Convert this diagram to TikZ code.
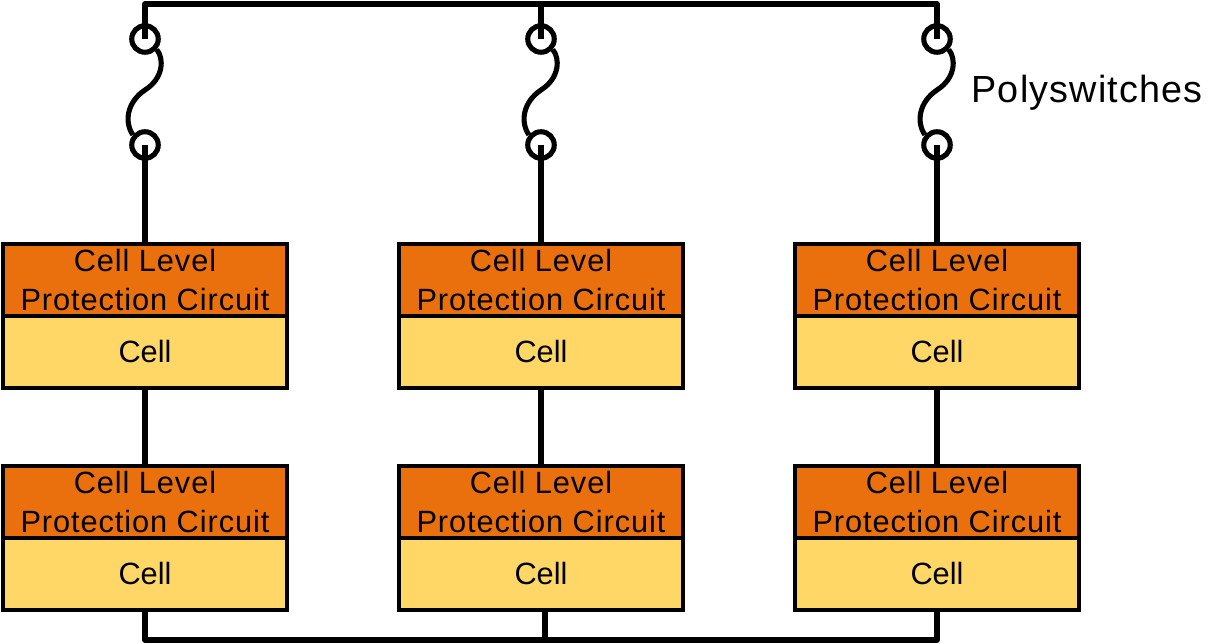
\documentclass[tikz,border=0pt]{standalone}
\usepackage{fontspec}
\setmainfont{Liberation Sans}
\newfontfamily\spacedfont[LetterSpace=3,WordSpace=1.0]{Liberation Sans}
\usetikzlibrary{positioning}
\definecolor{protorange}{RGB}{234,112,13}
\definecolor{cellyellow}{RGB}{255,215,102}
\tikzset{
  wire/.style={line width=2.9pt,line join=round},
  terminal/.style={circle,draw,line width=2.9pt,minimum size=0.53cm,inner sep=0pt},
  protbox/.style={rectangle,draw,line width=1.8pt,fill=protorange,minimum width=5.68cm,minimum height=1.44cm,inner sep=0pt,align=center,font=\spacedfont\fontsize{17.5}{22.7}\selectfont},
  cellbox/.style={rectangle,draw,line width=1.8pt,fill=cellyellow,minimum width=5.68cm,minimum height=1.44cm,inner sep=0pt,font=\fontsize{17.5}{22.7}\selectfont},
}
\begin{document}
\begin{tikzpicture}[x=0.02cm,y=-0.02cm]
        \useasboundingbox (0,0) rectangle (1224,644);
        % upper row
        \node (p1) at (145,280) [protbox] {Cell Level\\Protection Circuit};
        \node (c1) at (145,352) [cellbox] {Cell};
        \node (p2) at (541,280) [protbox] {Cell Level\\Protection Circuit};
        \node (c2) at (541,352) [cellbox] {Cell};
        \node (p3) at (937,280) [protbox] {Cell Level\\Protection Circuit};
        \node (c3) at (937,352) [cellbox] {Cell};
        % lower row
        \node (p4) at (145,502) [protbox] {Cell Level\\Protection Circuit};
        \node (c4) at (145,574) [cellbox] {Cell};
        \node (p5) at (541,502) [protbox] {Cell Level\\Protection Circuit};
        \node (c5) at (541,574) [cellbox] {Cell};
        \node (p6) at (937,502) [protbox] {Cell Level\\Protection Circuit};
        \node (c6) at (937,574) [cellbox] {Cell};
        % polyswitch terminals
        \node (t1) at (145,39) [terminal] {};
        \node (b1) at (145,145) [terminal] {};
        \node (t2) at (541,39) [terminal] {};
        \node (b2) at (541,145) [terminal] {};
        \node (t3) at (937,39) [terminal] {};
        \node (b3) at (937,145) [terminal] {};
        \node (polyswitches) at (1087,93) [font=\spacedfont\fontsize{21.5}{24}\selectfont] {Polyswitches};
        % ends of the two rails
        \coordinate (topa) at (145,4);
        \coordinate (topb) at (541,4);
        \coordinate (topc) at (937,4);
        \coordinate (bota) at (145,640);
        \coordinate (botb) at (545,640);
        \coordinate (botc) at (937,640);
        \coordinate (midout) at (545,610);
        \draw [wire] (t1.center)--(topa)--(topc)--(t3.center);
        \draw [wire] (topb)--(t2.center);
        \draw [wire] (b1.center)--(p1.north);
        \draw [wire] (b2.center)--(p2.north);
        \draw [wire] (b3.center)--(p3.north);
        \draw [wire] (c1.south)--(p4.north);
        \draw [wire] (c2.south)--(p5.north);
        \draw [wire] (c3.south)--(p6.north);
        \draw [wire] (c4.south)--(bota)--(botc)--(c6.south);
        \draw [wire] (midout)--(botb);
        % fuse curves
        \draw [wire] (t1.-42) .. controls (164,58) and (164,78) .. (145,90) .. controls (127,102) and (124,122) .. (b1.140);
        \draw [wire] (t2.-42) .. controls (560,58) and (560,78) .. (541,90) .. controls (523,102) and (520,122) .. (b2.140);
        \draw [wire] (t3.-42) .. controls (956,58) and (956,78) .. (937,90) .. controls (919,102) and (916,122) .. (b3.140);
\end{tikzpicture}
\end{document}
